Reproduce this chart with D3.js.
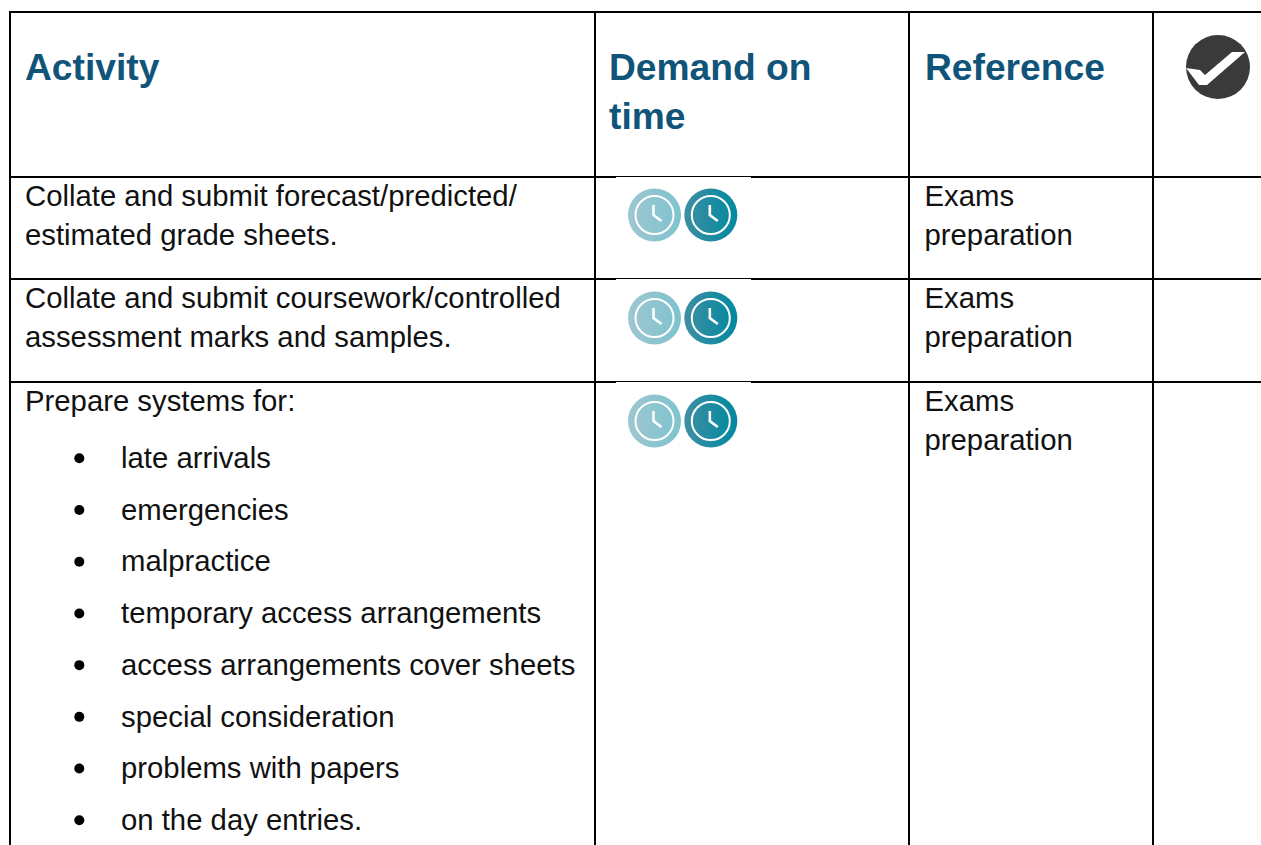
<!DOCTYPE html>
<html>
<head>
<meta charset="utf-8">
<script src="https://cdn.jsdelivr.net/npm/d3@7"></script>
<style>
html, body { margin: 0; padding: 0; background: #fff; overflow: hidden; }
text { font-family: "Liberation Sans", Arial, sans-serif; }
</style>
</head>
<body>
<div id="chart"></div>
<script>
//Table content
var headers = [["Activity"], ["Demand on", "time"], ["Reference"]];
var activities = [
    ["Collate and submit forecast/predicted/", "estimated grade sheets."],
    ["Collate and submit coursework/controlled", "assessment marks and samples."],
    ["Prepare systems for:"]
];
var references = ["Exams", "preparation"];
var bullets = ["late arrivals", "emergencies", "malpractice", "temporary access arrangements",
    "access arrangements cover sheets", "special consideration", "problems with papers", "on the day entries."];
var clockOpacity = [0.5, 1]; // pale clock, full clock

var width = 1261, height = 845;
var bodySize = 29.3, headSize = 37.2, lineGap = 38.7, headGap = 49;
var inkColor = "#111", headColor = "#11547a";

//Grid layout
var colX = [10, 595, 909, 1153];
var rowY = [12, 177, 279, 382];
var headX = [25, 609, 925];
var rowBase = [206, 308, 411];
var clockY = [215, 318, 421];
var bulletY = d3.scalePoint().domain(bullets).range([468, 830]);

var svg = d3.select("#chart").append("svg")
    .attr("width", width)
    .attr("height", height)
    .style("display", "block");

var defs = svg.append("defs");
var grad = defs.append("linearGradient").attr("id", "clockFill");
grad.append("stop").attr("offset", "0%").attr("stop-color", "#3f8ea3");
grad.append("stop").attr("offset", "100%").attr("stop-color", "#00899f");

//Lines
svg.selectAll(".hline").data(rowY).enter().append("line")
    .attr("class", "hline")
    .attr("x1", 9).attr("x2", width)
    .attr("y1", function(d) { return d; }).attr("y2", function(d) { return d; })
    .attr("stroke", "#000").attr("stroke-width", 2);
svg.selectAll(".vline").data(colX).enter().append("line")
    .attr("class", "vline")
    .attr("x1", function(d) { return d; }).attr("x2", function(d) { return d; })
    .attr("y1", 11).attr("y2", height)
    .attr("stroke", "#000").attr("stroke-width", 2);

//Pasted icon box leaves a thinner line over the rows
svg.selectAll(".patch").data(rowY.slice(1)).enter().append("rect")
    .attr("class", "patch")
    .attr("x", 616).attr("width", 135)
    .attr("y", function(d) { return d; }).attr("height", 1.2)
    .attr("fill", "#fff");

//Header text
headers.forEach(function(lines, i) {
    svg.selectAll(".head" + i).data(lines).enter().append("text")
        .attr("class", "head" + i)
        .attr("x", headX[i])
        .attr("y", function(d, j) { return 80 + j * headGap; })
        .attr("font-size", headSize)
        .attr("font-weight", "bold")
        .attr("fill", headColor)
        .text(function(d) { return d; });
});

//Tick icon
var tick = svg.append("g").attr("transform", "translate(1218,67)");
tick.append("circle").attr("r", 32).attr("fill", "#3a3a3a");
tick.append("path")
    .attr("d", "M-32,1 L-18,3 L-13,8 L14,-15 L27,-15 L-11,18 L-19,18 Z")
    .attr("fill", "#fff");

//Rows
activities.forEach(function(lines, i) {
    svg.selectAll(".act" + i).data(lines).enter().append("text")
        .attr("class", "act" + i)
        .attr("x", 25)
        .attr("y", function(d, j) { return rowBase[i] + j * lineGap; })
        .attr("font-size", bodySize)
        .attr("fill", inkColor)
        .text(function(d) { return d; });

    svg.selectAll(".ref" + i).data(references).enter().append("text")
        .attr("class", "ref" + i)
        .attr("x", 924.5)
        .attr("y", function(d, j) { return rowBase[i] + j * lineGap; })
        .attr("font-size", bodySize)
        .attr("fill", inkColor)
        .text(function(d) { return d; });

    clockOpacity.forEach(function(op, k) {
        var g = svg.append("g")
            .attr("transform", "translate(" + (654.5 + k * 56.3) + "," + clockY[i] + ")")
            .attr("opacity", op);
        g.append("circle").attr("r", 26.5).attr("fill", "url(#clockFill)");
        g.append("circle").attr("r", 19).attr("fill", "none").attr("stroke", "#fff").attr("stroke-width", 2);
        g.append("path").attr("d", "M-1,-10 L-1,0 L7,6").attr("fill", "none").attr("stroke", "#fff").attr("stroke-width", 2.6);
    });
});

//Bullet list
svg.selectAll(".dot").data(bullets).enter().append("circle")
    .attr("class", "dot")
    .attr("cx", 79.3)
    .attr("cy", function(d) { return bulletY(d) - 9.7; })
    .attr("r", 5)
    .attr("fill", "#000");
svg.selectAll(".item").data(bullets).enter().append("text")
    .attr("class", "item")
    .attr("x", 121)
    .attr("y", function(d) { return bulletY(d); })
    .attr("font-size", bodySize)
    .attr("fill", inkColor)
    .text(function(d) { return d; });
</script>
</body>
</html>
